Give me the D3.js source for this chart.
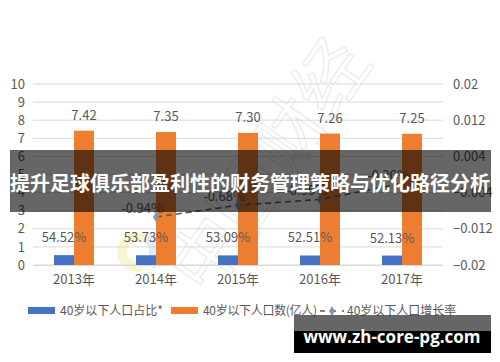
<!DOCTYPE html>
<html>
<head>
<meta charset="utf-8">
<script src="https://cdn.jsdelivr.net/npm/d3@7"></script>
<style>
  body { margin: 0; background: #fff; }
  svg text { font-family: "Noto Sans CJK SC", "Noto Sans", sans-serif; }
</style>
</head>
<body>
<div id="chart"></div>
<script>
var years = ["2013年", "2014年", "2015年", "2016年", "2017年"];
var shareValues = [0.5452, 0.5373, 0.5309, 0.5251, 0.5213];
var shareLabels = ["54.52%", "53.73%", "53.09%", "52.51%", "52.13%"];
var popValues = [7.42, 7.35, 7.30, 7.26, 7.25];
var growthYears = ["2014年", "2015年", "2016年", "2017年"];
var growthValues = [-0.0094, -0.0068, -0.0055, -0.0020];
var growthLabels = ["-0.94%", "-0.68%", "-0.55%", "-0.20%"];
var leftTicks = [0, 1, 2, 3, 4, 5, 6, 7, 8, 9, 10];
var rightTicks = [0.02, 0.012, 0.004, -0.004, -0.012, -0.02];
var legendNames = ["40岁以下人口占比*", "40岁以下人口数(亿人)", "40岁以下人口增长率"];
var title = "提升足球俱乐部盈利性的财务管理策略与优化路径分析";
var site = "www.zh-core-pg.com";

var svgWidth = 500, svgHeight = 362,
    margin = { top: 84, right: 57, bottom: 97, left: 33 },
    width = svgWidth - margin.left - margin.right,
    height = svgHeight - margin.top - margin.bottom;

var colors = ['#4472c4', '#ed7d31', '#595959'];
var textGray = '#595959';

var root = d3.select("#chart").append("svg")
    .attr("width", svgWidth)
    .attr("height", svgHeight);

// faint watermark behind everything
var wm = root.append("g").attr("class", "watermark");
wm.append("text")
    .attr("transform", "translate(290,180) rotate(-55)")
    .attr("text-anchor", "middle")
    .attr("font-size", 72)
    .attr("fill", "none")
    .attr("stroke", "#ebebeb")
    .attr("stroke-width", 1.3)
    .text("中国财经");
wm.append("path")
    .attr("transform", "translate(137,252)")
    .attr("d", d3.arc()({ innerRadius: 10, outerRadius: 20, startAngle: Math.PI * 0.9, endAngle: Math.PI * 2.2 }))
    .attr("fill", "#f6f3c8")
    .attr("opacity", 0.8);
wm.append("path")
    .attr("transform", "translate(137,252)")
    .attr("d", d3.arc()({ innerRadius: 12, outerRadius: 24, startAngle: Math.PI * 0.2, endAngle: Math.PI * 0.75 }))
    .attr("fill", "#dbe6f5")
    .attr("opacity", 0.8);

var svg = root.append("g")
    .attr("transform", "translate(" + margin.left + "," + margin.top + ")");

var x = d3.scaleBand().domain(years).range([0, width]);
var yL = d3.scaleLinear().domain([0, 10]).range([height, 0]);
var yR = d3.scaleLinear().domain([-0.02, 0.02]).range([height, 0]);
var barW = 20;

// gridlines
svg.append("g")
    .selectAll("line")
    .data(leftTicks)
    .enter().append("line")
    .attr("x1", 0).attr("x2", width)
    .attr("y1", function (d) { return yL(d); })
    .attr("y2", function (d) { return yL(d); })
    .attr("stroke", "#d9d9d9")
    .attr("stroke-width", 1);

// left axis
var gl = svg.append("g").call(d3.axisLeft(yL).tickValues(leftTicks).tickSize(0).tickPadding(8));
gl.select(".domain").remove();
gl.selectAll("text").attr("font-size", 13).attr("fill", textGray)
    .style("font-family", "'Noto Sans CJK SC', sans-serif");

// right axis
var gr = svg.append("g")
    .attr("transform", "translate(" + width + ",0)")
    .call(d3.axisRight(yR).tickValues(rightTicks).tickSize(0).tickPadding(10)
        .tickFormat(function (d) { return d3.format("")(+d.toFixed(3)); }));
gr.select(".domain").remove();
gr.selectAll("text").attr("font-size", 13).attr("fill", textGray)
    .style("font-family", "'Noto Sans CJK SC', sans-serif");

// bottom axis
var gb = svg.append("g")
    .attr("transform", "translate(0," + height + ")")
    .call(d3.axisBottom(x).tickSize(0).tickPadding(10));
gb.select(".domain").attr("stroke", "#d9d9d9");
gb.selectAll("text").attr("font-size", 13).attr("fill", textGray)
    .style("font-family", "'Noto Sans CJK SC', sans-serif");

// bars
function cx(d) { return x(d) + x.bandwidth() / 2; }

svg.append("g").selectAll("rect")
    .data(shareValues)
    .enter().append("rect")
    .attr("x", function (d, i) { return cx(years[i]) - barW; })
    .attr("y", function (d) { return yL(d); })
    .attr("width", barW)
    .attr("height", function (d) { return height - yL(d); })
    .attr("fill", colors[0]);

svg.append("g").selectAll("rect")
    .data(popValues)
    .enter().append("rect")
    .attr("x", function (d, i) { return cx(years[i]); })
    .attr("y", function (d) { return yL(d); })
    .attr("width", barW)
    .attr("height", function (d) { return height - yL(d); })
    .attr("fill", colors[1]);

// bar labels
svg.append("g").selectAll("text")
    .data(popValues)
    .enter().append("text")
    .attr("x", function (d, i) { return cx(years[i]) + barW / 2; })
    .attr("y", function (d) { return yL(d) - 11; })
    .attr("text-anchor", "middle")
    .attr("font-size", 13)
    .attr("fill", textGray)
    .text(function (d) { return d.toFixed(2); });

svg.append("g").selectAll("text")
    .data(shareValues)
    .enter().append("text")
    .attr("x", function (d, i) { return cx(years[i]) - barW / 2; })
    .attr("y", function (d) { return yL(d) - 13; })
    .attr("text-anchor", "middle")
    .attr("font-size", 13)
    .attr("fill", textGray)
    .text(function (d, i) { return shareLabels[i]; });

// growth line
var line = d3.line()
    .x(function (d, i) { return cx(growthYears[i]); })
    .y(function (d) { return yR(d); });

svg.append("path")
    .datum(growthValues)
    .attr("d", line)
    .attr("fill", "none")
    .attr("stroke", colors[2])
    .attr("stroke-width", 1.5)
    .attr("stroke-dasharray", "6,4");

var diamond = d3.symbol().type(d3.symbolDiamond).size(30);
svg.append("g").selectAll("path")
    .data(growthValues)
    .enter().append("path")
    .attr("d", diamond)
    .attr("transform", function (d, i) { return "translate(" + cx(growthYears[i]) + "," + yR(d) + ")"; })
    .attr("fill", "#8497b0");

svg.append("g").selectAll("text")
    .data(growthValues)
    .enter().append("text")
    .attr("x", function (d, i) { return cx(growthYears[i]) - 14; })
    .attr("y", function (d) { return yR(d) - 4; })
    .attr("text-anchor", "middle")
    .attr("font-size", 13)
    .attr("fill", textGray)
    .text(function (d, i) { return growthLabels[i]; });

// legend
var legend = root.append("g").attr("font-size", 12).attr("fill", textGray);
legend.append("rect").attr("x", 28).attr("y", 307).attr("width", 27).attr("height", 7).attr("fill", colors[0]);
legend.append("text").attr("x", 60).attr("y", 315).text(legendNames[0]);
legend.append("rect").attr("x", 171).attr("y", 307).attr("width", 27).attr("height", 7).attr("fill", colors[1]);
legend.append("text").attr("x", 203).attr("y", 315).attr("textLength", 114).text(legendNames[1]);
legend.append("line").attr("x1", 320).attr("x2", 344).attr("y1", 311).attr("y2", 311)
    .attr("stroke", colors[2]).attr("stroke-width", 1.5).attr("stroke-dasharray", "5,6");
legend.append("path").attr("d", diamond).attr("transform", "translate(332,311)").attr("fill", "#8497b0");
legend.append("text").attr("x", 347).attr("y", 315).text(legendNames[2]);

// title banner
root.append("rect")
    .attr("x", 10).attr("y", 150)
    .attr("width", 481).attr("height", 62)
    .attr("fill", "rgba(0,0,0,0.6)");
root.append("text")
    .attr("x", 250).attr("y", 191)
    .attr("text-anchor", "middle")
    .attr("font-size", 20)
    .attr("font-weight", "bold")
    .attr("fill", "#fff")
    .text(title);

// site box
root.append("rect").attr("x", 294).attr("y", 315).attr("width", 197).attr("height", 16).attr("fill", "rgba(0,0,0,0.6)");
root.append("rect").attr("x", 294).attr("y", 331).attr("width", 197).attr("height", 22).attr("fill", "#000");
root.append("text")
    .attr("x", 392).attr("y", 343)
    .attr("text-anchor", "middle")
    .attr("font-size", 17)
    .attr("font-weight", "bold")
    .attr("fill", "#fff")
    .style("font-family", "'Open Sans', 'DejaVu Sans', sans-serif")
    .text(site);
</script>
</body>
</html>
